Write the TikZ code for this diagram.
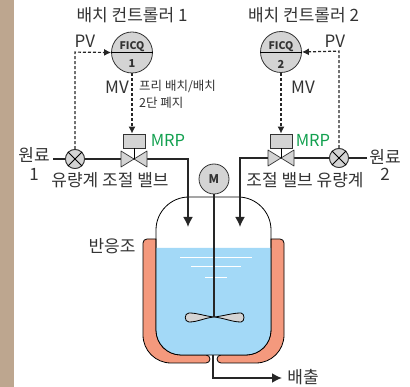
\documentclass[tikz,border=0pt]{standalone}
\usepackage{fontspec}
\setmainfont{Noto Sans CJK KR}
\usetikzlibrary{arrows.meta,positioning,calc}
\definecolor{bandtan}{HTML}{BDA68F}
\definecolor{partgray}{HTML}{D4D4D4}
\definecolor{jacket}{HTML}{F4997D}
\definecolor{liquid}{HTML}{A3D9F7}
\definecolor{mrpgreen}{HTML}{12A04F}
\definecolor{txtgray}{HTML}{333333}
\tikzset{
	lbl/.style={text=txtgray,font=\fontsize{17}{19}\selectfont,inner sep=0pt},
	smalllbl/.style={text=txtgray,font=\fontsize{12.5}{14}\selectfont,inner sep=0pt,anchor=west},
	mrp/.style={text=mrpgreen,font=\fontsize{16.5}{18}\selectfont,inner sep=0pt},
	ctrl/.style={circle,draw=black!80,fill=partgray,line width=0.8pt,minimum size=41pt,inner sep=0pt},
	meter/.style={circle,draw=black!80,fill=partgray,line width=0.8pt,minimum size=19pt,inner sep=0pt},
	actuator/.style={draw=black!80,fill=partgray,line width=0.8pt,minimum width=22pt,minimum height=14pt,inner sep=0pt},
	sig/.style={densely dashed,line width=1.2pt,black!85,-{Latex[length=7pt,width=7pt]}},
	pipe/.style={line width=1.8pt,black!85},
	pipearrow/.style={pipe,-{Latex[length=10pt,width=10pt]}},
	valveleaf/.style={draw=black!80,fill=partgray,line width=0.7pt,line join=round}
}
\begin{document}
\begin{tikzpicture}[x=1pt,y=-1pt]
	\useasboundingbox (0,0) rectangle (410,387);
	\fill[bandtan] (0,0) rectangle (14,387);
	% jacket and vessel
	\draw[fill=jacket,line width=0.8pt] (143,243) arc[start angle=180,end angle=270,radius=4] -- (156,239) -- (156,330) arc[start angle=180,end angle=90,radius=25] -- (206,355) arc[start angle=-90,end angle=0,radius=4] -- (210,359) arc[start angle=0,end angle=90,radius=4] -- (171,363) arc[start angle=90,end angle=180,radius=28] -- cycle;
	\draw[fill=jacket,line width=0.8pt] (284,243) arc[start angle=0,end angle=-90,radius=4] -- (271,239) -- (271,330) arc[start angle=0,end angle=90,radius=25] -- (221,355) arc[start angle=270,end angle=180,radius=4] -- (217,359) arc[start angle=180,end angle=90,radius=4] -- (256,363) arc[start angle=90,end angle=0,radius=28] -- cycle;
	\fill[liquid] (156,248) -- (271,248) -- (271,330) arc[start angle=0,end angle=90,radius=25] -- (181,355) arc[start angle=90,end angle=180,radius=25] -- cycle;
	\draw[line width=0.8pt] (156,330) -- (156,230) arc[start angle=180,end angle=270,radius=33] -- (238,197) arc[start angle=-90,end angle=0,radius=33] -- (271,330) arc[start angle=0,end angle=90,radius=25] -- (181,355) arc[start angle=90,end angle=180,radius=25];
	\draw[white,line width=0.7pt] (180,257) -- (252,257) (191,266) -- (241,266) (205,277) -- (227,277);
	% impeller
	\draw[fill=partgray,line width=0.8pt] (214,317) .. controls (204,316) and (198,313) .. (189,313) .. controls (184,313) and (184,322) .. (189,322) .. controls (198,322) and (204,318) .. (214,317);
	\draw[fill=partgray,line width=0.8pt] (214,317) .. controls (224,316) and (232,313) .. (241,313) .. controls (245,313) and (245,322) .. (241,322) .. controls (232,322) and (224,318) .. (214,317);
	% nodes
	\node[ctrl] (ficq1) at (132,52.5) {};
	\node[ctrl] (ficq2) at (281,52) {};
	\node[meter] (fm1) at (75,159) {};
	\node[meter] (fm2) at (339,158) {};
	\node[actuator] (act1) at (134,141) {};
	\node[actuator] (act2) at (281,141) {};
	\coordinate (v1) at (134,159);
	\coordinate (v2) at (281,158);
	\node[circle,draw=black!80,fill=partgray,line width=0.8pt,minimum size=30pt,inner sep=0pt,font=\fontsize{12}{14}\selectfont\bfseries,text=txtgray] (motor) at (214,179) {M};
	\coordinate (drain) at (213,355);
	\coordinate (drainend) at (282,378);
	\coordinate (in1) at (53,159);
	\coordinate (in2) at (367,158);
	\coordinate (tip1) at (188,227);
	\coordinate (tip2) at (240,227);
	\coordinate (shaftend) at (214,317);
	% controller dividers
	\draw[line width=0.8pt] (ficq1.west) -- (ficq1.east);
	\draw[line width=0.8pt] (ficq2.west) -- (ficq2.east);
	\node[inner sep=0pt,text=txtgray,font=\fontsize{10.5}{12}\selectfont\bfseries] (t1a) at (132,47) {FICQ};
	\node[inner sep=0pt,text=txtgray,font=\fontsize{11}{12}\selectfont\bfseries] (t1b) at (132,64) {1};
	\node[inner sep=0pt,text=txtgray,font=\fontsize{10.5}{12}\selectfont\bfseries] (t2a) at (281,47) {FICQ};
	\node[inner sep=0pt,text=txtgray,font=\fontsize{11}{12}\selectfont\bfseries] (t2b) at (281,64) {2};
	% pipes
	\draw[pipe] (in1) -- (fm1);
	\draw[pipearrow] (fm1) -- (v1) -| (tip1);
	\draw[pipe] (in2) -- (fm2);
	\draw[pipearrow] (fm2) -- (v2) -| (tip2);
	\draw[pipe] (motor) -- (shaftend);
	\draw[pipearrow] (drain) |- (drainend);
	% flow meters on top of pipes
	\node[meter] at (fm1) {};
	\node[meter] at (fm2) {};
	\draw[line width=0.8pt] (fm1.north west) -- (fm1.south east) (fm1.north east) -- (fm1.south west);
	\draw[line width=0.8pt] (fm2.north west) -- (fm2.south east) (fm2.north east) -- (fm2.south west);
	% valves
	\foreach \v/\a in {v1/act1,v2/act2}{
		\draw[valveleaf] (\v) -- ++(-13,-8) -- ++(0,16) -- cycle;
		\draw[valveleaf] (\v) -- ++(13,-8) -- ++(0,16) -- cycle;
		\draw[line width=1pt] (\v) -- (\a.south);
	}
	% signals
	\draw[sig] (fm1.north) -- ($(fm1.north)+(0,-97)$) -- (ficq1.west);
	\draw[sig] (fm2.north) -- ($(fm2.north)+(0,-97)$) -- (ficq2.east);
	\draw[sig] (ficq1.south) -- (ficq1.south |- act1.north);
	\draw[sig] (ficq2.south) -- (act2.north);
	% labels
	\node[lbl] (title1) at (132,15) {배치 컨트롤러 1};
	\node[lbl] (title2) at (303.5,15) {배치 컨트롤러 2};
	\node[lbl] (pv1) at (85,41.5) {PV};
	\node[lbl] (pv2) at (335,41.5) {PV};
	\node[lbl] (mv1) at (117,87) {MV};
	\node[lbl] (mv2) at (303,87) {MV};
	\node[smalllbl] (note1) at (139,86) {프리 배치/배치};
	\node[smalllbl] (note2) at (139,103) {2단 폐지};
	\node[mrp] (mrp1) at (168,140) {MRP};
	\node[mrp] (mrp2) at (313,140) {MRP};
	\node[lbl] (raw1a) at (34,155) {원료};
	\node[lbl] (raw1b) at (34,174) {1};
	\node[lbl] (raw2a) at (385,157) {원료};
	\node[lbl] (raw2b) at (385,174) {2};
	\node[lbl] (fmv1) at (110,180) {유량계 조절 밸브};
	\node[lbl] (fmv2) at (305,180) {조절 밸브 유량계};
	\node[lbl] (reactor) at (112,246) {반응조};
	\node[lbl] (out) at (303,377) {배출};
\end{tikzpicture}
\end{document}
